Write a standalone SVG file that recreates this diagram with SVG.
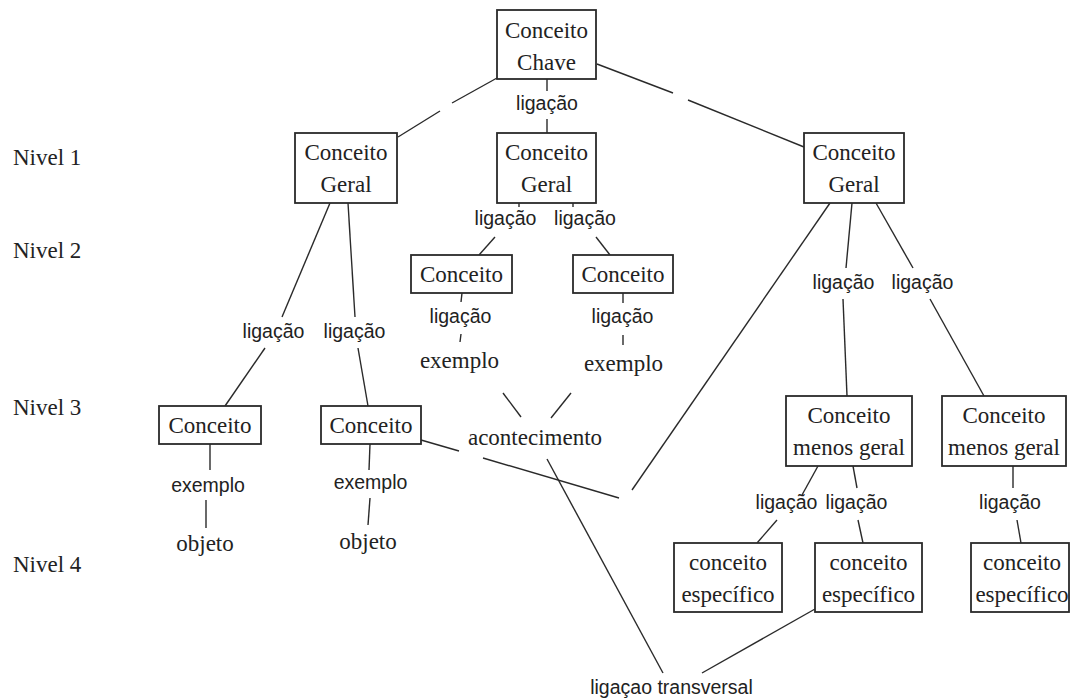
<svg xmlns="http://www.w3.org/2000/svg" width="1072" height="699" viewBox="0 0 1072 699">
<style>
.bg{fill:#fff}
.box{fill:#fff;stroke:#2a2a2a;stroke-width:1.8}
.s{font-family:"Liberation Serif","Times New Roman",serif;font-size:23px;fill:#222;text-anchor:middle}
.lvl{font-family:"Liberation Serif","Times New Roman",serif;font-size:23px;fill:#222}
.l{font-family:"Liberation Sans",Arial,sans-serif;font-size:19.5px;fill:#222;text-anchor:middle}
.c line{stroke:#2a2a2a;stroke-width:1.4;fill:none}
</style>
<rect class="bg" x="0" y="0" width="1072" height="699"/>
<g id="levels">
<text class="lvl" x="13" y="165">Nivel 1</text>
<text class="lvl" x="13" y="258">Nivel 2</text>
<text class="lvl" x="13" y="415">Nivel 3</text>
<text class="lvl" x="13" y="572">Nivel 4</text>
</g>
<g id="connectors" class="c">
<line x1="497" y1="78" x2="452" y2="103"/><line x1="440" y1="111" x2="398" y2="137"/>
<line x1="597" y1="64" x2="673" y2="93"/><line x1="688" y1="100" x2="804" y2="147"/>
<line x1="547" y1="79" x2="547" y2="91"/><line x1="547" y1="119" x2="547" y2="133"/>
<line x1="330" y1="203" x2="282" y2="317"/><line x1="265" y1="348" x2="225" y2="406"/>
<line x1="348" y1="203" x2="355" y2="317"/><line x1="358" y1="348" x2="368" y2="406"/>
<line x1="519" y1="203" x2="519" y2="207"/><line x1="573" y1="203" x2="573" y2="207"/>
<line x1="495" y1="237" x2="479" y2="255"/><line x1="596" y1="237" x2="610" y2="255"/>
<line x1="462" y1="293" x2="461" y2="302"/><line x1="461" y1="334" x2="460" y2="342"/>
<line x1="623" y1="293" x2="623" y2="303"/><line x1="623" y1="335" x2="623" y2="345"/>
<line x1="503" y1="393" x2="521" y2="417"/><line x1="571" y1="393" x2="551" y2="418"/>
<line x1="421" y1="440" x2="459" y2="451"/><line x1="483" y1="458" x2="619" y2="498"/>
<line x1="830" y1="203" x2="632" y2="490"/>
<line x1="852" y1="203" x2="846" y2="268"/><line x1="843" y1="299" x2="847" y2="396"/>
<line x1="876" y1="203" x2="913" y2="268"/><line x1="930" y1="299" x2="984" y2="396"/>
<line x1="210" y1="444" x2="210" y2="470"/><line x1="206" y1="500" x2="206" y2="528"/>
<line x1="370" y1="444" x2="369" y2="470"/><line x1="370" y1="498" x2="368" y2="525"/>
<line x1="547" y1="459" x2="663" y2="673"/>
<line x1="815" y1="609" x2="702" y2="673"/>
<line x1="818" y1="466" x2="802" y2="495"/><line x1="777" y1="520" x2="757" y2="543"/>
<line x1="853" y1="466" x2="857" y2="488"/><line x1="858" y1="520" x2="863" y2="543"/>
<line x1="1013" y1="466" x2="1013" y2="488"/><line x1="1017" y1="520" x2="1021" y2="543"/>
</g>
<g id="labels">
<text class="l" x="547" y="110">ligação</text>
<text class="l" x="505.5" y="225">ligação</text>
<text class="l" x="585" y="225">ligação</text>
<text class="l" x="273.5" y="338">ligação</text>
<text class="l" x="354.5" y="338">ligação</text>
<text class="l" x="460.5" y="323">ligação</text>
<text class="l" x="622.5" y="323">ligação</text>
<text class="l" x="843.5" y="289">ligação</text>
<text class="l" x="922.5" y="289">ligação</text>
<text class="l" x="786.5" y="509">ligação</text>
<text class="l" x="856.5" y="509">ligação</text>
<text class="l" x="1010" y="509">ligação</text>
<text class="l" x="208" y="492">exemplo</text>
<text class="l" x="370.5" y="489">exemplo</text>
<text class="l" x="671.5" y="694">ligaçao transversal</text>
<text class="s" x="459.5" y="368">exemplo</text>
<text class="s" x="623.5" y="371">exemplo</text>
<text class="s" x="535" y="445">acontecimento</text>
<text class="s" x="205" y="551">objeto</text>
<text class="s" x="368" y="549">objeto</text>
</g>
<g id="chave"><rect class="box" x="497" y="10" width="99" height="69"/><text class="s" x="546.5" y="38">Conceito</text><text class="s" x="546.5" y="70">Chave</text></g>
<g id="geral1"><rect class="box" x="295" y="133" width="102" height="70"/><text class="s" x="346" y="160">Conceito</text><text class="s" x="346" y="192">Geral</text></g>
<g id="geral2"><rect class="box" x="497" y="133" width="99" height="70"/><text class="s" x="546.5" y="160">Conceito</text><text class="s" x="546.5" y="192">Geral</text></g>
<g id="geral3"><rect class="box" x="804" y="133" width="100" height="70"/><text class="s" x="854" y="160">Conceito</text><text class="s" x="854" y="192">Geral</text></g>
<g id="n2a"><rect class="box" x="411" y="255" width="101" height="38"/><text class="s" x="461.5" y="282">Conceito</text></g>
<g id="n2b"><rect class="box" x="573" y="255" width="100" height="38"/><text class="s" x="623" y="282">Conceito</text></g>
<g id="n3a"><rect class="box" x="159" y="406" width="102" height="38"/><text class="s" x="210" y="433">Conceito</text></g>
<g id="n3b"><rect class="box" x="321" y="406" width="100" height="38"/><text class="s" x="371" y="433">Conceito</text></g>
<g id="mg1"><rect class="box" x="786" y="396" width="126" height="70"/><text class="s" x="849" y="423">Conceito</text><text class="s" x="849" y="455">menos geral</text></g>
<g id="mg2"><rect class="box" x="942" y="396" width="124" height="70"/><text class="s" x="1004" y="423">Conceito</text><text class="s" x="1004" y="455">menos geral</text></g>
<g id="ce1"><rect class="box" x="674" y="543" width="108" height="69"/><text class="s" x="728" y="570">conceito</text><text class="s" x="728" y="602">específico</text></g>
<g id="ce2"><rect class="box" x="815" y="543" width="107" height="69"/><text class="s" x="868.5" y="570">conceito</text><text class="s" x="868.5" y="602">específico</text></g>
<g id="ce3"><rect class="box" x="971" y="543" width="98" height="69"/><text class="s" x="1022" y="570">conceito</text><text class="s" x="1022" y="602">específico</text></g>
</svg>
